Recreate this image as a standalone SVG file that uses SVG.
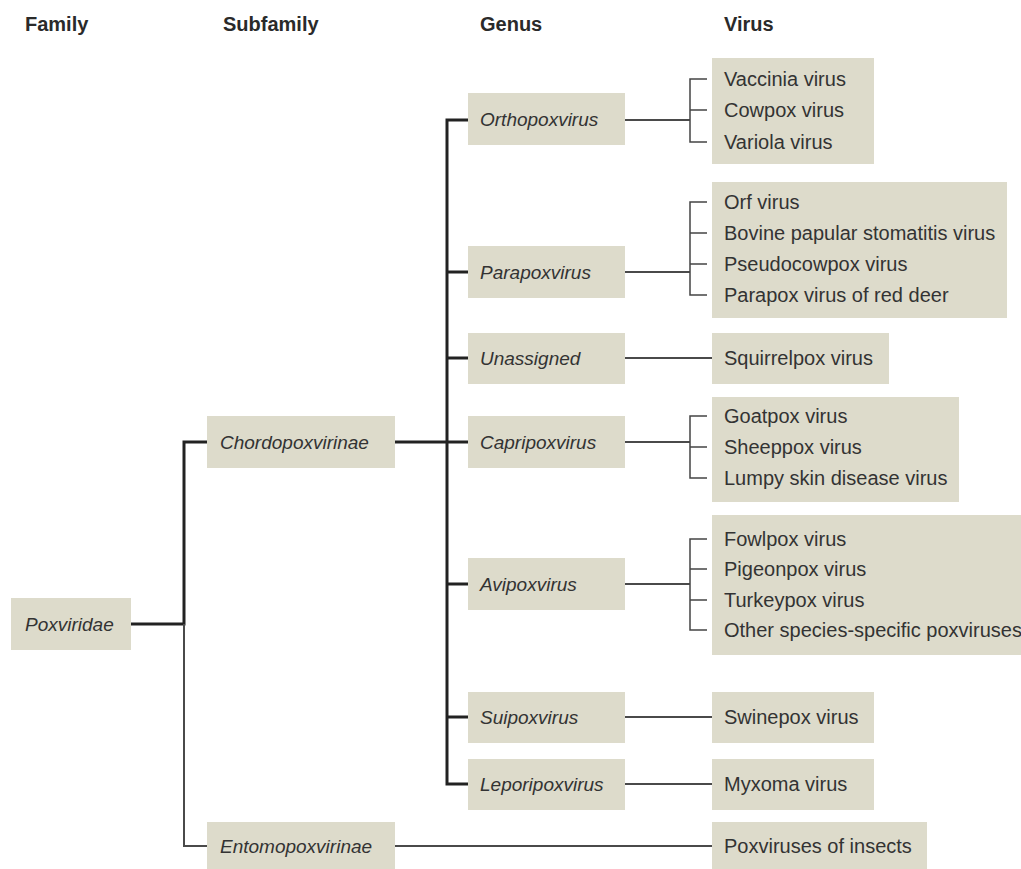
<svg xmlns="http://www.w3.org/2000/svg" width="1021" height="869" viewBox="0 0 1021 869">
<style>
.bx{fill:#dddbcb}
.hd{font-family:"Liberation Sans",Arial,sans-serif;font-weight:bold;font-size:20px;fill:#2a2a2a}
.it{font-family:"Liberation Sans",Arial,sans-serif;font-style:italic;font-size:19px;fill:#333}
.tx{font-family:"Liberation Sans",Arial,sans-serif;font-size:20px;fill:#333}
.thick{stroke:#222;stroke-width:3;fill:none}
.thin{stroke:#4a4a4a;stroke-width:2;fill:none}
.br{stroke:#444;stroke-width:1.5;fill:none}
</style>
<rect width="1021" height="869" fill="#fff"/>
<g id="headers">
<text class="hd" x="25" y="31">Family</text>
<text class="hd" x="223" y="31">Subfamily</text>
<text class="hd" x="480" y="31">Genus</text>
<text class="hd" x="724" y="31">Virus</text>
</g>
<g id="connectors">
<path class="thick" d="M131 624H184V442H207"/>
<path class="thin" d="M184 624V846H207"/>
<path class="thick" d="M395 442H468"/>
<path class="thick" d="M468 120H447V784H468M447 272H468M447 358H468M447 584H468M447 717H468"/>
<path class="thin" d="M625 120H690M625 272H690M625 358H712M625 442H690M625 584H690M625 717H712M625 784H712M395 846H712"/>
<path class="br" d="M707 79H690V142H707M690 110H707"/>
<path class="br" d="M707 202H690V295H707M690 233H707M690 264H707"/>
<path class="br" d="M707 416H690V478H707M690 447H707"/>
<path class="br" d="M707 539H690V630H707M690 569H707M690 600H707"/>
</g>
<g id="poxviridae"><rect class="bx" x="11" y="598" width="120" height="52"/><text class="it" x="25" y="631">Poxviridae</text></g>
<g id="chordopoxvirinae"><rect class="bx" x="207" y="416" width="188" height="52"/><text class="it" x="220" y="449">Chordopoxvirinae</text></g>
<g id="entomopoxvirinae"><rect class="bx" x="207" y="822" width="188" height="47"/><text class="it" x="220" y="853">Entomopoxvirinae</text></g>
<g id="orthopoxvirus"><rect class="bx" x="468" y="93" width="157" height="52"/><text class="it" x="480" y="126">Orthopoxvirus</text></g>
<g id="parapoxvirus"><rect class="bx" x="468" y="246" width="157" height="52"/><text class="it" x="480" y="279">Parapoxvirus</text></g>
<g id="unassigned"><rect class="bx" x="468" y="333" width="157" height="51"/><text class="it" x="480" y="365">Unassigned</text></g>
<g id="capripoxvirus"><rect class="bx" x="468" y="416" width="157" height="52"/><text class="it" x="480" y="449">Capripoxvirus</text></g>
<g id="avipoxvirus"><rect class="bx" x="468" y="558" width="157" height="52"/><text class="it" x="480" y="591">Avipoxvirus</text></g>
<g id="suipoxvirus"><rect class="bx" x="468" y="692" width="157" height="51"/><text class="it" x="480" y="724">Suipoxvirus</text></g>
<g id="leporipoxvirus"><rect class="bx" x="468" y="759" width="157" height="51"/><text class="it" x="480" y="791">Leporipoxvirus</text></g>
<g id="ortho-viruses"><rect class="bx" x="712" y="58" width="162" height="106"/>
<text class="tx" x="724" y="86">Vaccinia virus</text>
<text class="tx" x="724" y="117">Cowpox virus</text>
<text class="tx" x="724" y="149">Variola virus</text></g>
<g id="para-viruses"><rect class="bx" x="712" y="182" width="295" height="136"/>
<text class="tx" x="724" y="209">Orf virus</text>
<text class="tx" x="724" y="240">Bovine papular stomatitis virus</text>
<text class="tx" x="724" y="271">Pseudocowpox virus</text>
<text class="tx" x="724" y="302">Parapox virus of red deer</text></g>
<g id="squirrelpox"><rect class="bx" x="712" y="333" width="177" height="51"/><text class="tx" x="724" y="365">Squirrelpox virus</text></g>
<g id="capri-viruses"><rect class="bx" x="712" y="397" width="247" height="105"/>
<text class="tx" x="724" y="423">Goatpox virus</text>
<text class="tx" x="724" y="454">Sheeppox virus</text>
<text class="tx" x="724" y="485">Lumpy skin disease virus</text></g>
<g id="avi-viruses"><rect class="bx" x="712" y="515" width="309" height="140"/>
<text class="tx" x="724" y="546">Fowlpox virus</text>
<text class="tx" x="724" y="576">Pigeonpox virus</text>
<text class="tx" x="724" y="607">Turkeypox virus</text>
<text class="tx" x="724" y="637">Other species-specific poxviruses</text></g>
<g id="swinepox"><rect class="bx" x="712" y="692" width="162" height="51"/><text class="tx" x="724" y="724">Swinepox virus</text></g>
<g id="myxoma"><rect class="bx" x="712" y="759" width="162" height="51"/><text class="tx" x="724" y="791">Myxoma virus</text></g>
<g id="insects"><rect class="bx" x="712" y="822" width="215" height="47"/><text class="tx" x="724" y="853">Poxviruses of insects</text></g>
</svg>
